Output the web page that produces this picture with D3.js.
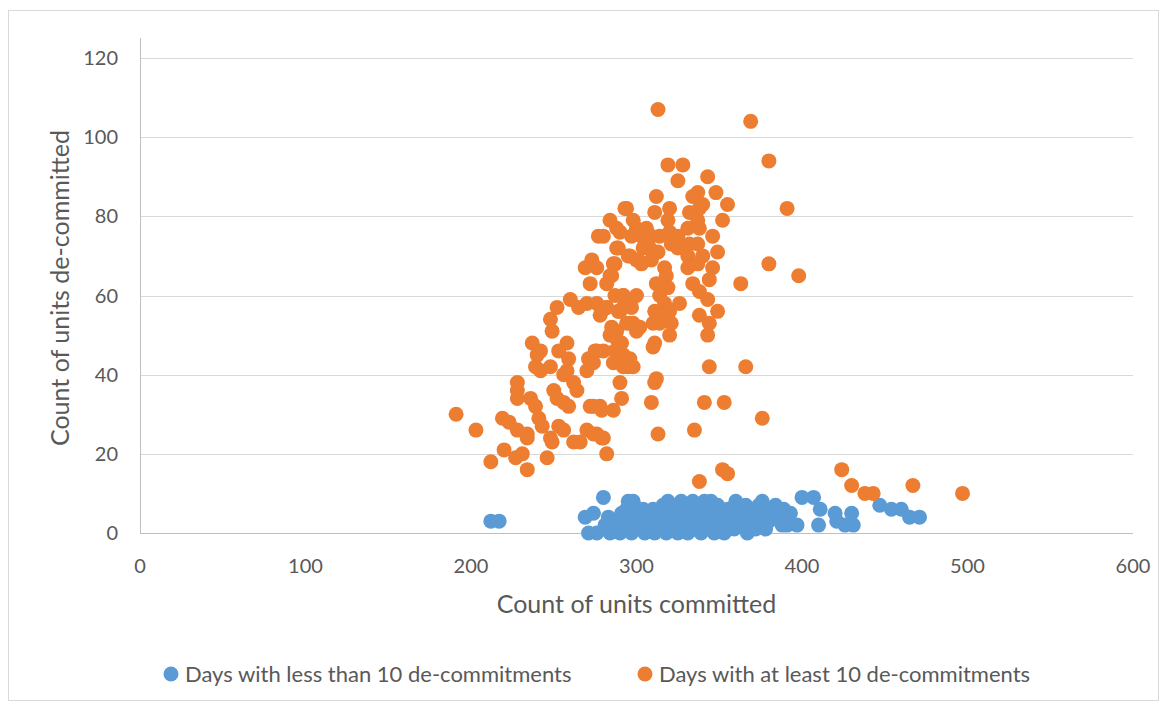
<!DOCTYPE html>
<html>
<head>
<meta charset="utf-8">
<script src="https://cdn.jsdelivr.net/npm/d3@7"></script>
<style>
  body { margin: 0; background: #fff; }
  text { font-family: Lato, "Open Sans", sans-serif; fill: #595959; }
</style>
</head>
<body>
<div id="chart"></div>
<script>
// axis ticks
const xTicks = [0, 100, 200, 300, 400, 500, 600];
const yTicks = [0, 20, 40, 60, 80, 100, 120];

// series names
const seriesNames = ['Days with less than 10 de-commitments', 'Days with at least 10 de-commitments'];

// blue series: [committed, de-committed]
const lessThan10 = [
  [212,3],[217,3],[269,4],[271,0],[274,5],[276,0],[280,9],[281,2],[283,4],[284,0],[286,1],[288,3],[290,0],
  [291,5],[292,2],[294,6],[295,8],[296,3],[297,0],[298,8],[299,5],[300,1],[302,3],[304,6],[305,0],[307,2],
  [308,4],[310,6],[311,0],[312,3],[313,1],[315,5],[316,7],[317,2],[318,0],[319,8],[320,4],[322,1],[323,6],
  [324,3],[325,0],[326,5],[327,8],[328,2],[329,7],[330,4],[331,0],[332,6],[333,3],[334,8],[335,1],[336,5],
  [337,2],[338,7],[339,0],[340,4],[341,8],[342,3],[343,6],[344,1],[345,8],[346,5],[347,0],[348,3],[349,7],
  [350,2],[352,5],[353,0],[354,4],[355,6],[357,2],[358,5],[359,1],[360,8],[361,3],[362,6],[364,2],[365,4],
  [366,7],[367,0],[368,5],[369,3],[370,6],[372,1],[373,4],[374,7],[375,2],[376,8],[377,5],[378,1],[379,6],
  [380,3],[382,4],[384,7],[385,6],[386,5],[388,2],[389,6],[391,2],[393,5],[397,2],[400,9],[407,9],[410,2],
  [411,6],[420,5],[421,3],[426,2],[430,5],[431,2],[447,7],[454,6],[460,6],[465,4],[471,4]
];

// orange series: [committed, de-committed]
const atLeast10 = [
  [313,107],[369,104],[380,94],[391,82],[398,65],[380,68],[363,63],[366,42],[344,42],[376,29],[353,33],
  [341,33],[335,26],[313,25],[352,16],[355,15],[338,13],[424,16],[430,12],[438,10],[443,10],[467,12],[497,10],
  [191,30],[203,26],[212,18],[219,29],[223,28],[220,21],[227,19],[231,20],[234,16],[246,19],[228,38],[228,36],
  [228,34],[236,34],[228,26],[234,25],[234,24],[239,32],[241,29],[243,27],[248,24],[249,23],[250,36],[252,34],
  [256,33],[259,32],[253,27],[256,26],[262,23],[266,23],[270,26],[276,25],[280,24],[282,20],[272,32],[278,32],
  [286,31],[274,32],[279,31],[290,38],[291,34],[262,38],[264,36],[237,48],[242,46],[240,45],[239,42],[242,41],
  [253,46],[259,44],[258,48],[248,42],[256,40],[258,41],[248,54],[249,51],[252,57],[260,59],[265,57],[271,44],
  [270,41],[274,43],[276,46],[280,46],[284,50],[288,51],[287,46],[291,48],[294,43],[296,44],[292,45],[295,42],
  [270,58],[276,58],[279,56],[282,57],[289,56],[292,57],[292,60],[297,59],[296,53],[300,51],[269,67],[273,69],
  [276,67],[272,63],[282,63],[284,65],[286,68],[289,72],[277,75],[284,79],[288,77],[294,82],[296,70],[301,69],
  [274,25],[279,24],[275,46],[286,43],[298,42],[292,42],[310,47],[343,50],[312,39],[311,38],[309,33],
  [319,93],[328,93],[325,89],[343,90],[348,86],[355,83],[352,79],[337,86],[334,85],[340,83],[338,82],[332,81],
  [337,79],[331,77],[338,77],[312,85],[311,81],[320,82],[319,79],[293,82],[298,79],[300,77],[306,77],[297,75],
  [290,76],[280,75],[303,75],[309,75],[314,75],[320,76],[325,75],[308,72],[304,72],[313,71],[321,73],[325,72],
  [332,73],[337,73],[346,75],[349,71],[288,72],[287,68],[285,65],[295,70],[300,69],[303,68],[309,69],[317,67],
  [318,65],[315,63],[319,62],[331,70],[331,67],[337,68],[340,70],[346,67],[344,64],[334,63],[338,61],[343,59],
  [349,56],[344,53],[338,55],[312,63],[314,60],[317,58],[311,56],[316,55],[320,56],[326,58],[310,53],[314,53],
  [321,53],[320,50],[311,48],[287,60],[292,60],[300,60],[297,57],[290,56],[282,57],[278,55],[285,52],[294,53],
  [298,53],[302,52],[288,49]
];

const colors = ['#5b9bd5', '#ed7d31'];

const W = 1167, H = 708;
const margin = { top: 58, right: 34, bottom: 175, left: 140 };

const svg = d3.select('#chart').append('svg')
  .attr('width', W)
  .attr('height', H);

// chart border
svg.append('rect')
  .attr('x', 8.5).attr('y', 10.5)
  .attr('width', 1150).attr('height', 690)
  .attr('fill', '#fff')
  .attr('stroke', '#d9d9d9');

const x = d3.scaleLinear().domain([0, 600]).range([margin.left, W - margin.right]);
const y = d3.scaleLinear().domain([0, 120]).range([H - margin.bottom, margin.top]);

// gridlines
svg.append('g')
  .selectAll('line')
  .data(yTicks.filter(d => d > 0))
  .enter().append('line')
  .attr('x1', x(0)).attr('x2', x(600))
  .attr('y1', d => Math.round(y(d)) + 0.5).attr('y2', d => Math.round(y(d)) + 0.5)
  .attr('stroke', '#d9d9d9').attr('stroke-width', 1);

// axis lines
svg.append('line')
  .attr('x1', x(0) + 0.5).attr('x2', x(0) + 0.5)
  .attr('y1', 38).attr('y2', Math.round(y(0)) + 0.5)
  .attr('stroke', '#bfbfbf');
svg.append('line')
  .attr('x1', x(0)).attr('x2', x(600))
  .attr('y1', Math.round(y(0)) + 0.5).attr('y2', Math.round(y(0)) + 0.5)
  .attr('stroke', '#bfbfbf');

// tick labels
svg.append('g').selectAll('text')
  .data(yTicks)
  .enter().append('text')
  .attr('x', 118)
  .attr('y', d => y(d))
  .attr('dy', '0.35em')
  .attr('text-anchor', 'end')
  .style('font-size', '20px')
  .text(d => d);

svg.append('g').selectAll('text')
  .data(xTicks)
  .enter().append('text')
  .attr('x', d => x(d))
  .attr('y', 566)
  .attr('dy', '0.35em')
  .attr('text-anchor', 'middle')
  .style('font-size', '20px')
  .text(d => d);

// axis titles
svg.append('text')
  .attr('x', (x(0) + x(600)) / 2)
  .attr('y', 604)
  .attr('dy', '0.35em')
  .attr('text-anchor', 'middle')
  .style('font-size', '25px')
  .text('Count of units committed');

svg.append('text')
  .attr('transform', `translate(60, 288) rotate(-90)`)
  .attr('dy', '0.35em')
  .attr('text-anchor', 'middle')
  .style('font-size', '25px')
  .text('Count of units de-committed');

// points
[lessThan10, atLeast10].forEach((series, i) => {
  svg.append('g')
    .selectAll('circle')
    .data(series)
    .enter().append('circle')
    .attr('cx', d => x(d[0]))
    .attr('cy', d => y(d[1]))
    .attr('r', 7.5)
    .attr('fill', colors[i]);
});

// legend
const legendX = [171, 645];
const legend = svg.append('g').selectAll('g')
  .data(seriesNames)
  .enter().append('g')
  .attr('transform', (d, i) => `translate(${legendX[i]}, 674)`);
legend.append('circle')
  .attr('r', 7.5)
  .attr('fill', (d, i) => colors[i]);
legend.append('text')
  .attr('x', 14)
  .attr('dy', '0.35em')
  .style('font-size', '22px')
  .text(d => d);
</script>
</body>
</html>
